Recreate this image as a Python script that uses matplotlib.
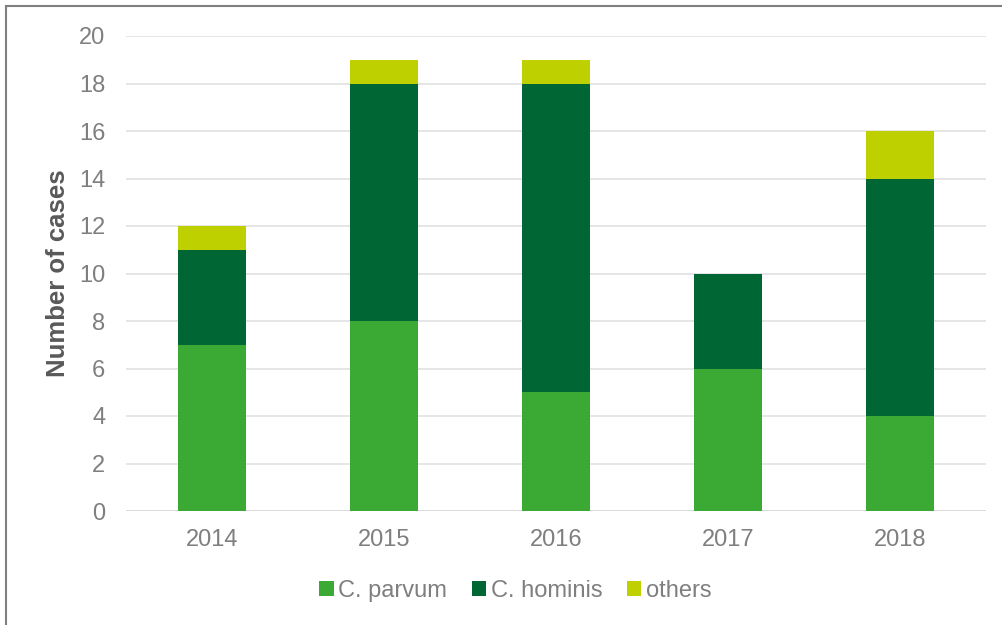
import matplotlib.pyplot as plt
import numpy as np
from matplotlib.patches import Rectangle

plt.rcParams['font.family'] = ['Liberation Sans', 'DejaVu Sans']

years = ['2014', '2015', '2016', '2017', '2018']
parvum = [7, 8, 5, 6, 4]
hominis = [4, 10, 13, 4, 10]
others = [1, 1, 1, 0, 2]

c_parvum = '#3AAA35'
c_hominis = '#006633'
c_others = '#BFD000'
txt = '#7F7F7F'

fig = plt.figure(figsize=(10.03, 6.25), dpi=100)
ax = fig.add_axes([0.1256, 0.1824, 0.8574, 0.76])

x = np.arange(len(years))
w = 0.395
p = np.array(parvum)
h = np.array(hominis)
o = np.array(others)
ax.bar(x, p, w, color=c_parvum, label='C. parvum', zorder=3)
ax.bar(x, h, w, bottom=p, color=c_hominis, label='C. hominis', zorder=3)
ax.bar(x, o, w, bottom=p + h, color=c_others, label='others', zorder=3)

ax.set_xlim(-0.5, len(years) - 0.5)
ax.set_ylim(0, 20)
ax.set_yticks(range(0, 21, 2))
ax.set_xticks(x)
ax.set_xticklabels(years)
ax.tick_params(axis='both', length=0, labelsize=17, colors=txt)
ax.tick_params(axis='x', pad=13)
ax.tick_params(axis='y', pad=15)
ax.grid(axis='y', color='#E0E0E0', linewidth=1.2, zorder=0)
for s in ax.spines.values():
    s.set_visible(False)
ax.axhline(0, color='#D9D9D9', linewidth=1.2, zorder=2)

ax.set_ylabel('Number of cases', fontsize=18.5, fontweight='bold', color='#595959', labelpad=6)

leg = fig.legend(loc='center', bbox_to_anchor=(0.514, 0.054), ncol=3, frameon=False,
                 fontsize=17, handlelength=0.6, handleheight=0.6, handletextpad=0.2,
                 columnspacing=1.05)
for t in leg.get_texts():
    t.set_color(txt)

fig.patches.append(Rectangle((6 / 1003, -0.1), 1.2, 1 - 6 / 625 + 0.1, transform=fig.transFigure,
                             fill=False, edgecolor='#7F7F7F', linewidth=1.5))

fig.savefig('out.png', dpi=100)
